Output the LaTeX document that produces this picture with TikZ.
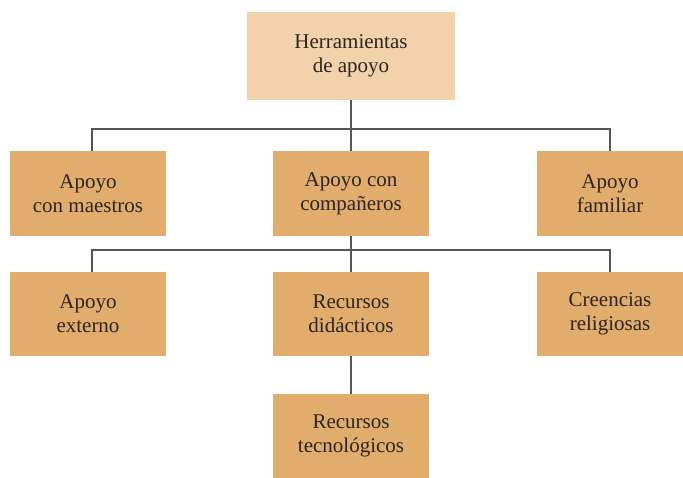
\documentclass[tikz,border=0pt]{standalone}
\usepackage{fontspec}
\setmainfont{Liberation Serif}
\definecolor{boxlight}{HTML}{F2D2AA}
\definecolor{boxdark}{HTML}{E2AC6C}
\definecolor{linec}{HTML}{555555}
\definecolor{txt}{HTML}{2A2520}
\begin{document}
\begin{tikzpicture}[x=1pt,y=-1pt,
  box/.style={fill=boxdark,draw=none,inner sep=0pt,align=center,text=txt,
    font=\fontsize{21}{24}\selectfont,minimum width=156pt,minimum height=85pt},
  topbox/.style={box,fill=boxlight,minimum width=208pt,minimum height=88pt},
  conn/.style={draw=linec,line width=2pt}]
\useasboundingbox (0,0) rectangle (683,477);
\node[topbox] (top) at (351,56) {Herramientas\\de apoyo};
\node[box] (a1) at (88,193.5) {Apoyo\\con maestros};
\node[box] (a2) at (351,193.5) {Apoyo con\\compañeros};
\node[box,minimum width=146pt] (a3) at (610,193.5) {Apoyo\\familiar};
\node[box,minimum height=84pt] (b1) at (88,314) {Apoyo\\externo};
\node[box,minimum height=84pt] (b2) at (351,314) {Recursos\\didácticos};
\node[box,minimum width=146pt,minimum height=84pt] (b3) at (610,314) {Creencias\\religiosas};
\node[box,minimum height=84pt] (c2) at (351,436) {Recursos\\tecnológicos};
\coordinate (bar1) at (351,129);
\coordinate (bar2) at (351,250);
\draw[conn] (top.south) -- (a2.north);
\draw[conn] ([xshift=3.5pt]a1.north) |- (bar1) -| (a3.north);
\draw[conn] (a2.south) -- (b2.north);
\draw[conn] ([xshift=3.5pt]b1.north) |- (bar2) -| (b3.north);
\draw[conn] (b2.south) -- (c2.north);
\end{tikzpicture}
\end{document}
